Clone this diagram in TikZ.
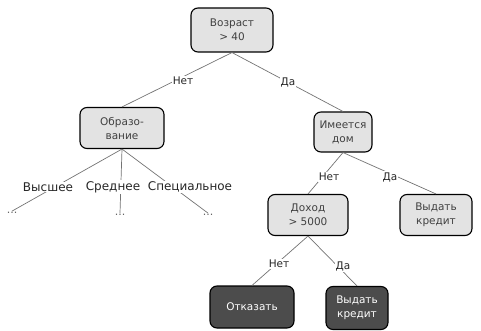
\documentclass[tikz,border=0pt]{standalone}
\usepackage{fontspec}
\setmainfont{DejaVu Sans}
\begin{document}
\begin{tikzpicture}[x=1pt,y=-1pt,
  box/.style={draw=black, line width=1.1pt, rounded corners=7pt, fill=gray!22, align=center,
    font=\fontsize{10.5}{14}\selectfont, inner sep=2pt, text=black!75},
  darkbox/.style={box, fill=black!70, text=white},
  lbl/.style={fill=white, inner sep=1pt, font=\fontsize{10.5}{12}\selectfont, text=black!85},
  br/.style={fill=white, inner sep=1pt, font=\fontsize{12}{14}\selectfont, text=black!85},
  dots/.style={inner sep=1pt, font=\fontsize{11}{12}\selectfont, text=black!60},
  conn/.style={draw=black!55, line width=0.7pt}]
\useasboundingbox (0,0) rectangle (481,331);
% nodes
\node[box, minimum width=82, minimum height=44] (root) at (232,30) {Возраст\\> 40};
\node[box, minimum width=84, minimum height=41] (obr) at (122,128) {Образо-\\вание};
\node[box, minimum width=58, minimum height=40] (dom) at (343,132) {Имеется\\дом};
\node[box, minimum width=80, minimum height=41] (doh) at (308,215) {Доход\\> 5000};
\node[box, minimum width=72, minimum height=41] (vyd1) at (436,215) {Выдать\\кредит};
\node[darkbox, minimum width=84, minimum height=42] (otk) at (252,307) {Отказать};
\node[darkbox, minimum width=62, minimum height=43] (vyd2) at (357,308) {Выдать\\кредит};
\node[dots] (d1) at (12,213) {...};
\node[dots] (d2) at (120,215) {...};
\node[dots] (d3) at (208,215) {...};
% connectors
\draw[conn] (root.south) -- (obr.north);
\draw[conn] (root.south) -- (dom.north);
\draw[conn] (obr.south) -- (d1.north);
\draw[conn] (obr.south) -- (d2.north);
\draw[conn] (obr.south) -- (d3.north);
\draw[conn] (dom.south) -- (doh.north);
\draw[conn] (dom.south) -- (vyd1.north);
\draw[conn] (doh.south) -- (otk.north);
\draw[conn] (doh.south) -- (vyd2.north);
% labels
\node[lbl] (l1) at (183,81) {Нет};
\node[lbl] (l2) at (288,82) {Да};
\node[lbl] (l3) at (329,177) {Нет};
\node[lbl] (l4) at (390,177) {Да};
\node[lbl] (l5) at (279,264) {Нет};
\node[lbl] (l6) at (343,266) {Да};
\node[br] (b1) at (48,187) {Высшее};
\node[br] (b2) at (113,187) {Среднее};
\node[br] (b3) at (190,187) {Специальное};
\end{tikzpicture}
\end{document}
